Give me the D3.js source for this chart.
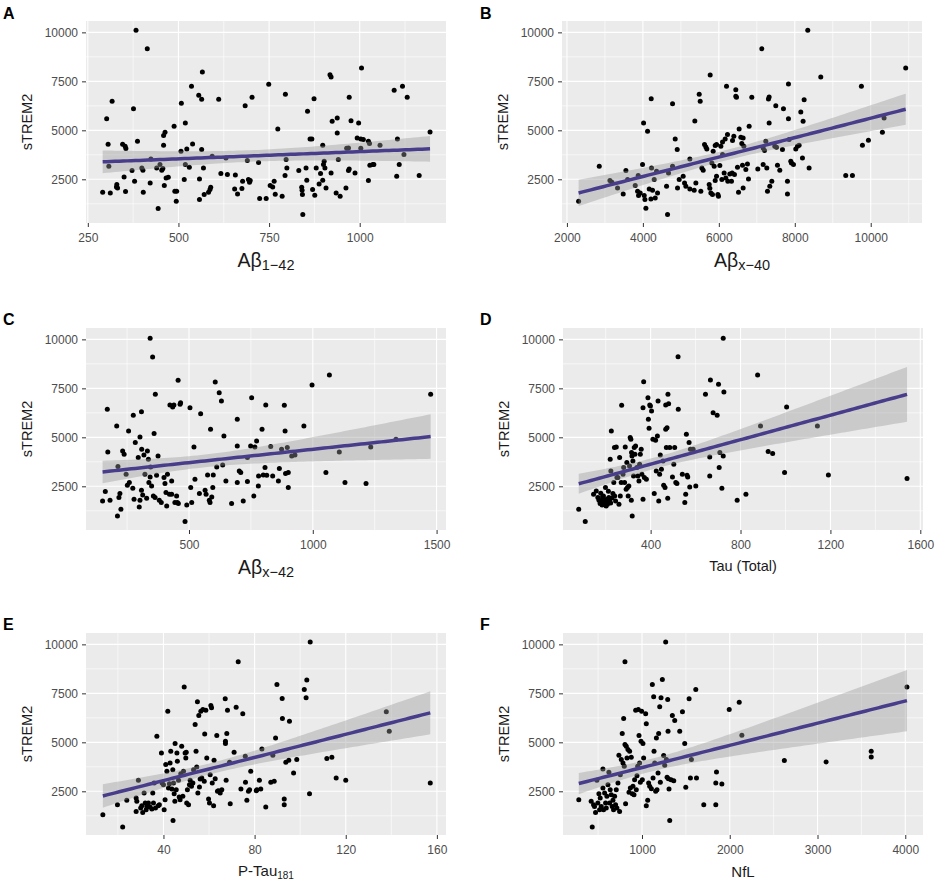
<!DOCTYPE html>
<html><head><meta charset="utf-8">
<script src="https://cdn.jsdelivr.net/npm/d3@7"></script>
<style>body{margin:0;background:#fff;} text{font-family:"Liberation Sans",Arial,Helvetica,sans-serif;}</style>
</head><body><script>
// ---------------- DATA ----------------
const yTicks = [2500, 5000, 7500, 10000];
const yDomain = [270, 10580];
const yLabel = "sTREM2";

const ticksA = [250, 500, 750, 1000];
const ticksB = [2000, 4000, 6000, 8000, 10000];
const ticksC = [500, 1000, 1500];
const ticksD = [400, 800, 1200, 1600];
const ticksE = [40, 80, 120, 160];
const ticksF = [1000, 2000, 3000, 4000];

const pointsA = [[291,1840],[302,5597],[306,4288],[308,3166],[312,1806],[317,6481],[329,2112],[330,2231],[332,2061],[346,4288],[350,2622],[353,4186],[355,4067],[354,1874],[372,2945],[376,6107],[379,2401],[383,10102],[387,4441],[399,3081],[402,2962],[403,1840],[414,9167],[422,2316],[424,3540],[440,3081],[444,1007],[449,3251],[454,2962],[457,3047],[459,4237],[459,4730],[461,2180],[463,4900],[466,2571],[472,2605],[488,5206],[490,1891],[494,1381],[495,1891],[507,3931],[508,6379],[516,2486],[519,5376],[519,3251],[523,4050],[530,3115],[536,7246],[539,4305],[556,6787],[558,2520],[558,1466],[564,6583],[564,4016],[566,7977],[569,3081],[571,1721],[583,1840],[587,1976],[589,2095],[593,3676],[611,6583],[617,2792],[631,3591],[635,2741],[655,2010],[657,2724],[663,1755],[675,2027],[677,2401],[684,6260],[690,3455],[693,2486],[696,2350],[698,2435],[703,6685],[721,3353],[724,1517],[742,1517],[749,7348],[753,2180],[760,2112],[764,2401],[767,1738],[774,5070],[786,1636],[794,2690],[795,6838],[797,3506],[799,3081],[832,2945],[840,2095],[841,1942],[842,1721],[843,701],[852,3081],[854,2452],[856,5971],[863,4560],[868,4560],[870,1976],[874,6617],[876,1687],[880,3081],[888,2265],[892,2792],[898,4237],[898,2452],[900,3251],[902,3421],[904,3081],[907,2061],[918,7841],[921,7722],[921,2826],[924,5461],[935,1806],[938,5631],[938,4866],[941,3506],[946,1636],[962,2061],[964,4084],[969,4101],[969,2945],[971,6685],[971,3030],[976,5495],[987,2826],[993,4611],[997,5376],[1003,4560],[1003,4084],[1005,8181],[1010,4526],[1024,4441],[1024,2435],[1027,4322],[1028,3217],[1036,3251],[1039,3251],[1056,4237],[1095,7042],[1102,2656],[1104,4560],[1109,3251],[1118,7246],[1122,3761],[1131,6685],[1164,2690],[1194,4917]];

const pointsB = [[2307,1381],[2851,3166],[3132,2435],[3184,2350],[3333,2061],[3482,1755],[3553,2945],[3597,2486],[3798,2180],[3877,2690],[3860,1891],[3886,1670],[3930,1806],[3991,3251],[4018,5376],[4035,1670],[4053,1466],[4079,1024],[4123,4951],[4167,2010],[4211,1500],[4219,6617],[4228,3081],[4254,1942],[4298,2486],[4325,1551],[4360,2911],[4386,1806],[4623,2146],[4649,701],[4675,2826],[4781,6362],[4781,3166],[4851,4560],[4904,4016],[4912,2061],[4956,2486],[5061,2656],[5097,2316],[5132,2146],[5237,3540],[5237,2010],[5351,1942],[5368,5478],[5395,2316],[5483,6838],[5509,6481],[5526,1891],[5553,3081],[5588,2962],[5623,4271],[5658,4152],[5684,4050],[5746,2231],[5763,2044],[5772,7824],[5790,1806],[5816,3336],[5833,1721],[5851,3931],[5877,3166],[5904,4220],[5904,2435],[5939,2656],[5974,1721],[5991,1636],[6026,3200],[6053,4186],[6079,2486],[6097,4407],[6097,3761],[6140,2826],[6167,4560],[6184,2571],[6202,7246],[6228,4781],[6237,2401],[6289,2775],[6333,2401],[6351,2826],[6412,2741],[6447,6736],[6447,7076],[6465,6685],[6491,3115],[6518,1840],[6535,5070],[6579,4645],[6605,4322],[6623,3217],[6640,2061],[6658,4186],[6711,2996],[6754,3285],[6781,2520],[6798,5206],[6868,6685],[7026,3030],[7132,9167],[7167,3251],[7202,3965],[7237,4441],[7263,3081],[7281,1891],[7307,6600],[7325,6702],[7325,5376],[7342,2146],[7395,2401],[7500,6260],[7518,4135],[7544,3217],[7605,2962],[7675,4016],[7702,6107],[7807,2401],[7807,1755],[7833,7365],[7833,5597],[7851,4526],[7895,3421],[7912,3336],[7965,3251],[8026,4050],[8070,4186],[8114,4237],[8158,5937],[8202,3591],[8219,5461],[8246,6566],[8377,3081],[8342,10102],[8684,7722],[9342,2690],[9518,2690],[9754,7246],[9781,4237],[9939,4492],[10307,4900],[10351,5631],[10921,8181],[6395,4696],[6360,4475],[6640,4611],[5939,4271],[7167,4101],[7474,4186]];

const pointsC = [[151,1755],[162,2231],[170,6430],[172,4254],[181,1789],[208,5580],[211,990],[213,3506],[217,1925],[221,2129],[225,1330],[232,4305],[238,4135],[246,3115],[251,2554],[256,5325],[259,2690],[273,2401],[275,6124],[278,1840],[283,4730],[295,3965],[299,1449],[302,5019],[302,1789],[308,6311],[308,2299],[309,4390],[313,2061],[318,4101],[322,3115],[329,1891],[332,4305],[336,3880],[338,2690],[343,10051],[343,2979],[345,3489],[349,2520],[353,9099],[356,2010],[359,5189],[363,1925],[364,7195],[369,3064],[375,4050],[380,1789],[388,1670],[399,2945],[403,2639],[407,2180],[410,1500],[413,3115],[421,2095],[423,6651],[430,2775],[430,2095],[434,6549],[439,6651],[443,1670],[450,2010],[453,1670],[456,7909],[457,1619],[464,6685],[466,6770],[484,701],[491,1551],[504,6515],[507,2435],[511,1670],[520,4509],[524,2860],[542,2129],[547,6209],[565,2299],[569,2095],[575,3081],[582,1789],[585,1670],[587,5410],[592,1959],[596,2435],[598,3081],[606,7824],[612,3489],[622,7280],[631,6855],[636,3591],[641,5070],[649,2775],[672,1619],[695,5920],[695,4560],[695,2690],[703,3285],[709,3200],[719,1755],[736,2741],[736,3965],[749,4560],[753,7025],[762,2010],[766,4509],[773,4815],[780,2520],[781,3030],[795,5410],[800,3081],[807,3455],[810,6651],[814,3064],[830,4526],[838,3030],[861,2775],[865,3404],[874,4390],[885,6634],[888,5325],[890,3149],[897,4475],[901,3200],[901,2435],[915,4050],[928,4101],[964,5580],[997,7671],[1053,3200],[1067,8181],[1107,4254],[1130,2690],[1215,2639],[1234,4509],[1476,7195],[1336,4900]];

const pointsD = [[80,1330],[109,701],[146,2095],[158,2265],[165,1925],[170,1789],[175,1619],[180,1755],[184,1551],[187,1840],[190,2010],[195,1670],[199,2435],[202,1500],[205,1840],[210,1670],[214,1925],[217,1755],[220,3880],[223,3285],[225,5325],[232,2129],[236,2690],[239,4475],[244,1755],[247,4509],[250,2945],[254,2945],[259,1585],[262,3965],[265,2010],[269,2690],[271,6634],[277,3115],[280,3455],[284,2690],[287,4509],[291,2350],[294,3710],[297,2435],[300,2010],[303,2520],[306,3540],[309,4985],[312,4900],[314,1789],[315,4220],[317,4050],[318,990],[321,3795],[324,3030],[327,4475],[330,4135],[333,4560],[339,3455],[343,3030],[348,2775],[351,3625],[354,4135],[358,4390],[361,3115],[366,1840],[366,6515],[369,7841],[372,2945],[381,2860],[388,7025],[390,5920],[393,5461],[396,6651],[399,6600],[404,6345],[410,4900],[416,2129],[422,4849],[425,3285],[430,5070],[433,6855],[436,1755],[440,3115],[443,4101],[448,3370],[455,3795],[458,2554],[464,2435],[467,5410],[467,6651],[470,4475],[473,5495],[476,1891],[477,7195],[480,6719],[485,4475],[497,2979],[503,3625],[507,4475],[512,2690],[517,2639],[523,6430],[522,9116],[541,3115],[552,1670],[556,2095],[559,5155],[562,3064],[565,2979],[571,4730],[574,2469],[577,4390],[589,4390],[601,2520],[644,7195],[663,3030],[663,3999],[666,7926],[678,6260],[696,6124],[702,7705],[705,3455],[708,4220],[717,2401],[723,4050],[726,7314],[723,10051],[785,1789],[824,2095],[876,8181],[889,5580],[923,4271],[943,4169],[996,3200],[1005,6549],[1142,5580],[1191,3081],[1541,2894],[192,1700],[200,1610],[208,1580],[216,1800],[222,1650],[228,1900],[186,1950],[178,2150],[240,2000],[212,2250]];

const pointsE = [[13.4,1304],[19.8,1816],[22.1,674],[23.9,2038],[28.0,2157],[28.0,1475],[28.3,1987],[29.0,3061],[30.0,1646],[30.5,1765],[30.9,1424],[31.5,2413],[32.0,1901],[32.4,1560],[32.7,1731],[33.4,1901],[34.1,1697],[34.9,1594],[35.3,2413],[35.6,1901],[35.9,2924],[36.5,1646],[37.1,5311],[37.7,1765],[38.2,1816],[39.1,4459],[39.4,2924],[40.0,2839],[40.3,1560],[40.7,2072],[41.0,3862],[41.5,3521],[41.9,6590],[42.2,2669],[42.6,2890],[42.9,3947],[43.2,4544],[43.7,2617],[44.1,3606],[44.2,1015],[44.4,2924],[44.7,2379],[45.0,1987],[45.1,4936],[45.6,2583],[45.9,4459],[46.1,4033],[46.6,3061],[46.9,2208],[47.3,2072],[47.6,3402],[48.0,4800],[48.5,2242],[48.8,3521],[49.1,7818],[49.5,4459],[49.8,4203],[50.0,4493],[50.2,1901],[50.5,2583],[51.0,1816],[51.4,2839],[51.7,3061],[52.3,2754],[52.9,2924],[53.2,3606],[53.9,5908],[54.3,4544],[54.6,3743],[54.9,7067],[55.1,2413],[55.5,6368],[55.8,2720],[56.1,3129],[56.4,6590],[56.8,3180],[57.3,6675],[57.9,3009],[58.1,5431],[58.6,6641],[59.0,4203],[59.8,2106],[60.2,1901],[60.5,3350],[60.8,6880],[61.1,6761],[61.4,2924],[62.0,1765],[62.2,4084],[62.7,3146],[63.4,5345],[63.7,2498],[64.1,2532],[64.9,2413],[65.6,2583],[67.1,7221],[67.2,5055],[67.2,4936],[67.5,3061],[67.8,5448],[68.1,6641],[69.0,3981],[69.3,1867],[71.0,4493],[71.9,6795],[72.8,9113],[74.0,2617],[74.8,6454],[75.9,4288],[76.0,2958],[76.6,2038],[77.3,2498],[77.8,2583],[78.3,3521],[80.7,2532],[81.0,2583],[82.1,3061],[82.7,2617],[83.2,4663],[84.9,1697],[87.1,2958],[88.0,4339],[88.6,3009],[89.2,5226],[89.8,7954],[92.1,7238],[92.2,6215],[93.0,2106],[93.0,1816],[93.7,3981],[95.0,4084],[95.3,6079],[98.5,4118],[97.1,3436],[101.8,7698],[102.6,7272],[102.9,8176],[104.1,2379],[104.4,10119],[111.7,4169],[113.9,4237],[115.8,3180],[120.0,3061],[137.8,6556],[139.1,5567],[157.1,2924]];

const pointsF = [[280,2072],[433,674],[421,1987],[448,1816],[459,1731],[471,1424],[486,3061],[497,1901],[509,2379],[517,1560],[524,2157],[536,1731],[555,3640],[555,2669],[562,1560],[574,2413],[585,1901],[593,1646],[600,2242],[612,2839],[623,3470],[631,1901],[638,2583],[650,2328],[661,1731],[669,2038],[676,1560],[688,2242],[699,1816],[707,2583],[714,1646],[726,2924],[737,4339],[745,1475],[753,3350],[764,4118],[775,5448],[783,3947],[791,6215],[798,3777],[806,4885],[813,1867],[821,4800],[829,4203],[840,4629],[852,2447],[859,4544],[867,2669],[878,4237],[890,2379],[897,2754],[909,2328],[916,3095],[928,6641],[935,2583],[943,3299],[951,3777],[958,6675],[966,5345],[973,3947],[981,2958],[989,5055],[996,6590],[1004,3095],[1011,4936],[1019,4203],[1042,6454],[1049,5942],[1049,1765],[1065,2038],[1076,2924],[1088,2754],[1107,2634],[1118,7954],[1126,3180],[1133,7323],[1137,4544],[1145,3947],[1156,2498],[1164,5226],[1171,2583],[1183,3436],[1190,5448],[1202,6812],[1209,2958],[1217,7272],[1232,8210],[1247,4322],[1259,3828],[1270,10119],[1278,4118],[1286,3214],[1293,7187],[1297,5567],[1301,3146],[1308,2617],[1316,1015],[1331,3095],[1346,6368],[1362,3044],[1373,6113],[1430,5567],[1461,6556],[1487,4936],[1499,2703],[1537,7221],[1552,3180],[1563,4118],[1613,7698],[1621,3180],[1704,1816],[1841,2924],[1849,3487],[1841,1816],[1910,2873],[1994,6675],[2108,7050],[2138,5362],[2622,4067],[3098,3998],[3612,4544],[3612,4254],[4019,7818],[806,9113]];

// ---------------- LAYOUT ----------------
const panels = [
  {letter:"A", pts:pointsA, xDomain:[245,1238], xTicks:ticksA, left:86,  top:21,  lx:3,   ly:18.5, title:[["Aβ",19.5,0],["1−42",14.5,3]], tdy:44},
  {letter:"B", pts:pointsB, xDomain:[1870,11350], xTicks:ticksB, left:562, top:21,  lx:480, ly:18.5, title:[["Aβ",19.5,0],["x−40",14.5,3]], tdy:44},
  {letter:"C", pts:pointsC, xDomain:[84,1538], xTicks:ticksC, left:86,  top:328, lx:3,   ly:325, title:[["Aβ",19.5,0],["x−42",14.5,3]], tdy:44},
  {letter:"D", pts:pointsD, xDomain:[10,1612], xTicks:ticksD, left:563, top:328, lx:480, ly:325, title:[["Tau (Total)",14.5,0]], tdy:41},
  {letter:"E", pts:pointsE, xDomain:[6,164], xTicks:ticksE, left:86,  top:633, lx:3,   ly:630, title:[["P-Tau",15,0],["181",10,3]], tdy:41},
  {letter:"F", pts:pointsF, xDomain:[100,4202], xTicks:ticksF, left:563, top:633, lx:480, ly:630, title:[["NfL",15,0]], tdy:42}
];
const PW = 360, PH = 202;

const svg = d3.select("body").append("svg").attr("width", 936).attr("height", 885);

function minorTicks(ticks, dom) {
  const s = ticks[1] - ticks[0], out = [];
  for (let v = ticks[0] - s / 2; v <= dom[1]; v += s) if (v >= dom[0]) out.push(v);
  return out;
}

function lmFit(pts) {
  const n = pts.length;
  const mx = d3.mean(pts, d => d[0]), my = d3.mean(pts, d => d[1]);
  let sxx = 0, sxy = 0;
  pts.forEach(([a, b]) => { sxx += (a - mx) ** 2; sxy += (a - mx) * (b - my); });
  const b1 = sxy / sxx, b0 = my - b1 * mx;
  let sse = 0;
  pts.forEach(([a, b]) => { sse += (b - b0 - b1 * a) ** 2; });
  const s = Math.sqrt(sse / (n - 2)), df = n - 2, z = 1.959964;
  const t = z + (z ** 3 + z) / (4 * df) + (5 * z ** 5 + 16 * z ** 3 + 3 * z) / (96 * df * df);
  const [x0, x1] = d3.extent(pts, d => d[0]);
  return d3.range(81).map(i => {
    const xv = x0 + (x1 - x0) * i / 80;
    const f = b0 + b1 * xv;
    const se = s * Math.sqrt(1 / n + (xv - mx) ** 2 / sxx);
    return {x: xv, y: f, lo: f - t * se, hi: f + t * se};
  });
}

panels.forEach(p => {
  const g = svg.append("g");
  const x = d3.scaleLinear().domain(p.xDomain).range([p.left, p.left + PW]);
  const y = d3.scaleLinear().domain(yDomain).range([p.top + PH, p.top]);

  g.append("rect").attr("x", p.left).attr("y", p.top).attr("width", PW).attr("height", PH).attr("fill", "#ebebeb");

  const grid = g.append("g");
  minorTicks(p.xTicks, p.xDomain).forEach(v => grid.append("line")
    .attr("x1", x(v)).attr("x2", x(v)).attr("y1", p.top).attr("y2", p.top + PH)
    .attr("stroke", "#fff").attr("stroke-width", 0.6));
  minorTicks(yTicks, yDomain).forEach(v => grid.append("line")
    .attr("y1", y(v)).attr("y2", y(v)).attr("x1", p.left).attr("x2", p.left + PW)
    .attr("stroke", "#fff").attr("stroke-width", 0.6));
  p.xTicks.forEach(v => grid.append("line")
    .attr("x1", x(v)).attr("x2", x(v)).attr("y1", p.top).attr("y2", p.top + PH)
    .attr("stroke", "#fff").attr("stroke-width", 1.1));
  yTicks.forEach(v => grid.append("line")
    .attr("y1", y(v)).attr("y2", y(v)).attr("x1", p.left).attr("x2", p.left + PW)
    .attr("stroke", "#fff").attr("stroke-width", 1.1));

  // points
  g.append("g").selectAll("circle").data(p.pts).join("circle")
    .attr("cx", d => x(d[0])).attr("cy", d => y(d[1])).attr("r", 2.5).attr("fill", "#000");

  // smooth (lm) with 95% CI
  const fit = lmFit(p.pts);
  g.append("path").datum(fit)
    .attr("d", d3.area().x(d => x(d.x)).y0(d => y(d.lo)).y1(d => y(d.hi)))
    .attr("fill", "#999999").attr("fill-opacity", 0.4);
  g.append("path").datum(fit)
    .attr("d", d3.line().x(d => x(d.x)).y(d => y(d.y)))
    .attr("fill", "none").attr("stroke", "#483D8B").attr("stroke-width", 3.5);

  // axes
  const ya = g.append("g").attr("transform", `translate(${p.left},0)`)
    .call(d3.axisLeft(y).tickValues(yTicks).tickSize(4).tickPadding(4).tickFormat(d3.format("d")));
  ya.select(".domain").remove();
  ya.attr("font-family", "Liberation Sans, Arial, sans-serif").attr("font-size", 12);
  ya.selectAll("line").attr("stroke", "#333");
  ya.selectAll("text").attr("fill", "#4d4d4d");

  const xa = g.append("g").attr("transform", `translate(0,${p.top + PH})`)
    .call(d3.axisBottom(x).tickValues(p.xTicks).tickSize(4).tickPadding(6).tickFormat(d3.format("d")));
  xa.select(".domain").remove();
  xa.attr("font-family", "Liberation Sans, Arial, sans-serif").attr("font-size", 12);
  xa.selectAll("line").attr("stroke", "#333");
  xa.selectAll("text").attr("fill", "#4d4d4d");

  // y title
  g.append("text").attr("transform", `translate(${p.left - 54},${p.top + PH / 2}) rotate(-90)`)
    .attr("text-anchor", "middle").attr("font-size", 14.5).attr("fill", "#1a1a1a").text(yLabel);

  // x title
  const xt = g.append("text").attr("x", p.left + PW / 2).attr("y", p.top + PH + p.tdy)
    .attr("text-anchor", "middle").attr("fill", "#1a1a1a");
  p.title.forEach(([s, fs, dy], i) => {
    const ts = xt.append("tspan").attr("font-size", fs).text(s);
    if (i > 0) ts.attr("dy", dy);
  });

  // panel letter
  g.append("text").attr("x", p.lx).attr("y", p.ly).attr("font-size", 16).attr("font-weight", "bold")
    .attr("fill", "#000").text(p.letter);
});
</script></body></html>
